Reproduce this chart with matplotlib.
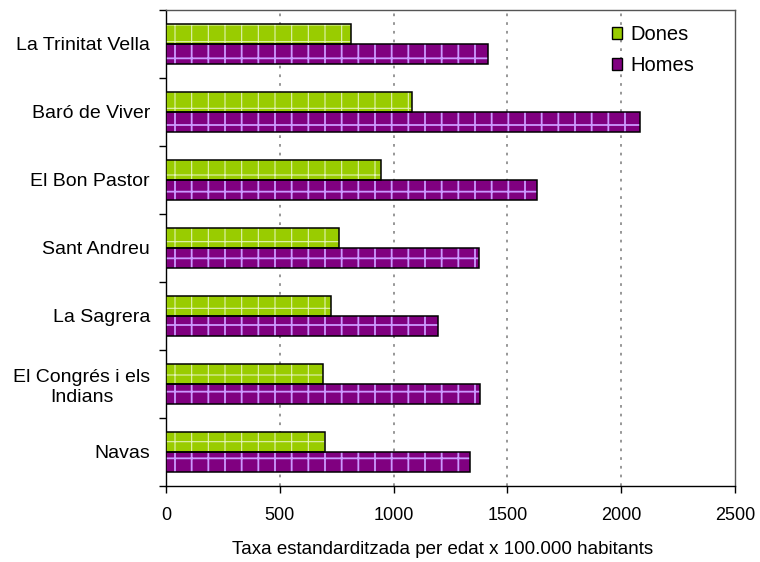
import matplotlib
matplotlib.use("Agg")
import matplotlib.pyplot as plt
import numpy as np
from matplotlib.ticker import FixedLocator
from matplotlib.patches import Patch

categories = ["La Trinitat Vella", "Baró de Viver", "El Bon Pastor", "Sant Andreu",
              "La Sagrera", "El Congrés i els\nIndians", "Navas"]
dones = [811, 1081, 945, 760, 725, 690, 699]
homes = [1415, 2083, 1630, 1375, 1195, 1380, 1336]
xticks = [0, 500, 1000, 1500, 2000, 2500]
xlabel = "Taxa estandarditzada per edat x 100.000 habitants"

plt.rcParams['font.family'] = ['Liberation Sans', 'DejaVu Sans']

fig = plt.figure(figsize=(7.6, 5.62), dpi=100)
ax = fig.add_axes([166/760, 1-486/562, (735-166)/760, (486-10)/562])

n = len(categories)
pos = np.arange(n)[::-1]  # top category first
h = 0.29

# Dones (upper bar in each group)
plt.rcParams['hatch.linewidth'] = 0.8
ax.barh(pos + h/2, dones, height=h, color='#99CC00', edgecolor='#e2f2b5',
        linewidth=0, hatch='+', zorder=3)
ax.barh(pos + h/2, dones, height=h, fill=False, edgecolor='black',
        linewidth=1.1, zorder=4)
# Homes
plt.rcParams['hatch.linewidth'] = 1.3
ax.barh(pos - h/2, homes, height=h, color='#800080', edgecolor='#CC99FF',
        linewidth=0, hatch='+', zorder=3)
ax.barh(pos - h/2, homes, height=h, fill=False, edgecolor='black',
        linewidth=1.1, zorder=4)

# legend proxies
hd = Patch(facecolor='#99CC00', edgecolor='black', linewidth=1.0)
hh = Patch(facecolor='#800080', edgecolor='black', linewidth=1.0)
leg = fig.legend([hd, hh], ["Dones", "Homes"], loc='upper left', frameon=False,
                 fontsize=14.5, handlelength=0.5, handleheight=0.5, handletextpad=0.4,
                 labelspacing=0.6, borderpad=0, borderaxespad=0,
                 bbox_to_anchor=(612/760, 1 - 25/562))

ax.set_xlim(0, 2500)
ax.set_ylim(-0.5, n - 0.5)
ax.set_xticks(xticks)
ax.set_xticklabels([str(t) for t in xticks], fontsize=13)
ax.set_yticks(pos)
ax.set_yticklabels(categories, fontsize=14, ha='right', multialignment='center')
ax.tick_params(axis='y', which='major', length=0, pad=11.5)
ax.yaxis.set_minor_locator(FixedLocator(np.arange(-0.5, n, 1.0)))
ax.tick_params(axis='y', which='minor', length=5, direction='out', width=1)
ax.tick_params(axis='x', length=5, direction='out', width=1, pad=10)
ax.set_xlabel(xlabel, fontsize=13.5, labelpad=12)
ax.xaxis.label.set_x((443 - 166) / 569)

for x in [500, 1000, 1500, 2000]:
    ax.axvline(x, color='#999999', linestyle=(0, (1.35, 3.0)), linewidth=1.44, zorder=1)

for s in ax.spines.values():
    s.set_color('black')
    s.set_linewidth(1.0)
ax.spines['top'].set_color('#555555')
ax.spines['right'].set_color('#555555')

fig.savefig("out.png", dpi=100)
